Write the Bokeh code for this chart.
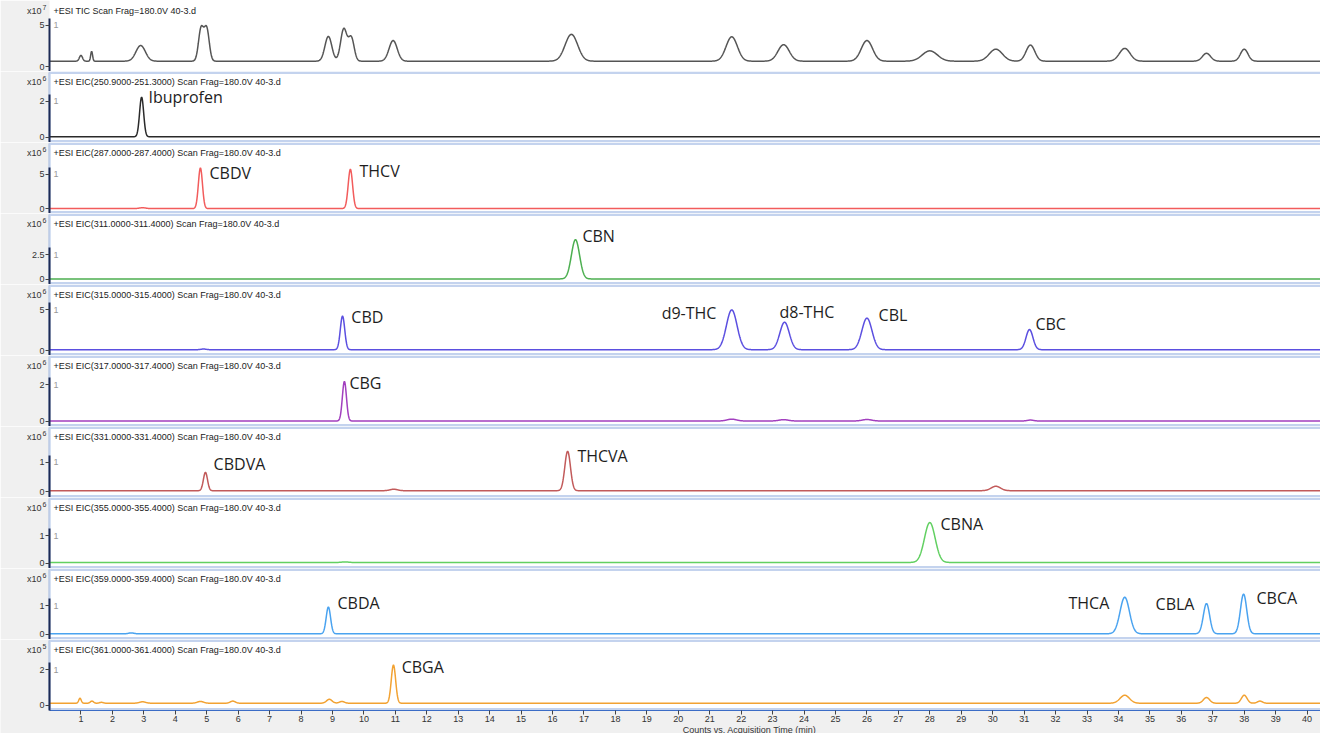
import numpy as np
from bokeh.plotting import figure
from bokeh.layouts import column
from bokeh.models import FixedTicker, Label, Range1d, BoxAnnotation
from bokeh.embed import file_html
from bokeh.resources import INLINE

# ---------------- data ----------------
panel_titles = [
    "+ESI TIC Scan Frag=180.0V 40-3.d",
    "+ESI EIC(250.9000-251.3000) Scan Frag=180.0V 40-3.d",
    "+ESI EIC(287.0000-287.4000) Scan Frag=180.0V 40-3.d",
    "+ESI EIC(311.0000-311.4000) Scan Frag=180.0V 40-3.d",
    "+ESI EIC(315.0000-315.4000) Scan Frag=180.0V 40-3.d",
    "+ESI EIC(317.0000-317.4000) Scan Frag=180.0V 40-3.d",
    "+ESI EIC(331.0000-331.4000) Scan Frag=180.0V 40-3.d",
    "+ESI EIC(355.0000-355.4000) Scan Frag=180.0V 40-3.d",
    "+ESI EIC(359.0000-359.4000) Scan Frag=180.0V 40-3.d",
    "+ESI EIC(361.0000-361.4000) Scan Frag=180.0V 40-3.d",
]
exponents = ["7", "6", "6", "6", "6", "6", "6", "6", "6", "5"]
y_ticks = [[0, 5], [0, 2], [0, 5], [0, 2.5], [0, 5], [0, 2], [0, 1], [0, 1], [0, 1], [0, 2]]
x_ticks = list(range(1, 41))
x_axis_title = "Counts vs. Acquisition Time (min)"

# peak tables: retention time (min), height, width (sigma, min); baselines
tic_rt = [1.0, 1.34, 2.9, 4.82, 5.0, 8.87, 9.36, 9.6, 10.93, 16.6, 21.7, 23.35, 26.0, 28.0, 30.1, 31.2, 34.2, 36.8, 38.0]
tic_h = [0.7, 1.2, 1.9, 3.9, 3.9, 3.0, 3.9, 2.8, 2.5, 3.25, 2.95, 2.0, 2.5, 1.25, 1.45, 1.95, 1.55, 0.95, 1.45]
tic_w = [0.05, 0.03, 0.15, 0.08, 0.08, 0.11, 0.1, 0.09, 0.13, 0.2, 0.18, 0.18, 0.18, 0.24, 0.21, 0.14, 0.17, 0.13, 0.12]
tic_base = 0.65

e251_rt = [2.93]
e251_h = [2.2]
e251_w = [0.065]
e251_base = 0.03

e287_rt = [2.96, 4.8, 9.57]
e287_h = [0.12, 5.85, 5.65]
e287_w = [0.1, 0.065, 0.07]
e287_base = 0.05

e311_rt = [16.73]
e311_h = [4.0]
e311_w = [0.13]
e311_base = 0.05

e315_rt = [4.9, 9.32, 21.7, 23.38, 26.0, 31.17]
e315_h = [0.08, 4.1, 4.85, 3.35, 3.85, 2.45]
e315_w = [0.08, 0.07, 0.17, 0.15, 0.16, 0.11]
e315_base = 0.15

e317_rt = [9.38, 21.7, 23.35, 26.0, 31.2]
e317_h = [2.15, 0.1, 0.07, 0.08, 0.05]
e317_w = [0.065, 0.15, 0.15, 0.15, 0.1]
e317_base = 0.02

e331_rt = [4.96, 10.95, 16.48, 30.1]
e331_h = [0.62, 0.05, 1.33, 0.15]
e331_w = [0.065, 0.12, 0.09, 0.15]
e331_base = 0.04

e355_rt = [9.4, 28.0]
e355_h = [0.02, 1.45]
e355_w = [0.1, 0.17]
e355_base = 0.03

e359_rt = [2.6, 8.87, 34.2, 36.8, 37.98]
e359_h = [0.03, 0.93, 1.27, 1.05, 1.38]
e359_w = [0.08, 0.07, 0.15, 0.1, 0.1]
e359_base = 0.02

e361_rt = [0.97, 1.35, 1.65, 2.96, 4.8, 5.83, 8.9, 9.3, 10.94, 34.2, 36.8, 38.0, 38.5]
e361_h = [0.28, 0.12, 0.05, 0.08, 0.1, 0.12, 0.22, 0.1, 2.15, 0.45, 0.32, 0.45, 0.12]
e361_w = [0.04, 0.05, 0.06, 0.1, 0.1, 0.08, 0.09, 0.08, 0.07, 0.15, 0.1, 0.09, 0.08]
e361_base = 0.12

# peak annotations: panel index, text, x (min), y (panel units)
label_panel = [1, 2, 2, 3, 4, 4, 4, 4, 4, 5, 6, 6, 7, 8, 8, 8, 8, 9]
label_text = ["Ibuprofen", "CBDV", "THCV", "CBN", "CBD", "d9-THC", "d8-THC", "CBL", "CBC",
              "CBG", "CBDVA", "THCVA", "CBNA", "CBDA", "THCA", "CBLA", "CBCA", "CBGA"]
label_x = [3.15, 5.09, 9.86, 16.95, 9.6, 19.47, 23.22, 26.37, 31.36,
           9.54, 5.22, 16.79, 28.34, 9.16, 32.41, 35.18, 38.39, 11.2]
label_y = [2.23, 5.15, 5.44, 4.375, 4.1, 4.6, 4.75, 4.4, 3.25,
           2.1, 0.93, 1.2, 1.41, 1.1, 1.1, 1.07, 1.25, 2.17]

# ---------------- styling ----------------
colors = ["#555555", "#2a2a2a", "#f25c5c", "#4caf50", "#5b4fe0", "#a23fbf",
          "#c25a5a", "#62d062", "#4aa3f0", "#f2a232"]
y_ranges = [(-0.6, 8.0), (-0.29, 3.66), (-0.66, 9.56), (-0.52, 6.72), (-0.56, 8.1),
            (-0.28, 3.58), (-0.19, 2.21), (-0.19, 2.39), (-0.18, 2.29), (-0.29, 3.71)]

traces = [
    (tic_rt, tic_h, tic_w, tic_base),
    (e251_rt, e251_h, e251_w, e251_base),
    (e287_rt, e287_h, e287_w, e287_base),
    (e311_rt, e311_h, e311_w, e311_base),
    (e315_rt, e315_h, e315_w, e315_base),
    (e317_rt, e317_h, e317_w, e317_base),
    (e331_rt, e331_h, e331_w, e331_base),
    (e355_rt, e355_h, e355_w, e355_base),
    (e359_rt, e359_h, e359_w, e359_base),
    (e361_rt, e361_h, e361_w, e361_base),
]

t = np.linspace(0, 40.5, 4051)


def chromatogram(rt, h, w, base):
    y = np.full_like(t, base)
    for r, a, s in zip(rt, h, w):
        y = y + a * np.exp(-0.5 * ((t - r) / s) ** 2)
    return y


W = 1320
FRAME_H = 71
BOTTOM = 23
PX_PER_MIN = 31.44
LEFT_PX = 49
x_start = -LEFT_PX / PX_PER_MIN
x_end = x_start + W / PX_PER_MIN
xr = Range1d(x_start, x_end)
SMALL_FONT = "Liberation Sans"
GRAY = "#f0f0f0"
BLUE = "#3b6cc6"

figs = []
for i in range(10):
    last = i == 9
    y0, y1 = y_ranges[i]
    upp = (y1 - y0) / FRAME_H  # data units per pixel
    ylo = y0 - (BOTTOM * upp if last else 0)
    p = figure(width=W, height=FRAME_H + (BOTTOM if last else 0),
               x_range=xr, y_range=Range1d(ylo, y1),
               toolbar_location=None, output_backend="svg",
               min_border_left=0, min_border_right=0,
               min_border_top=0, min_border_bottom=0)
    p.border_fill_color = GRAY
    p.background_fill_color = "white"
    p.outline_line_color = None
    p.grid.visible = False

    # grey side strip (and bottom strip for the last panel)
    p.add_layout(BoxAnnotation(right=0, fill_color=GRAY, fill_alpha=1, line_color=None,
                               level="underlay"))
    if last:
        p.add_layout(BoxAnnotation(top=y0, fill_color=GRAY, fill_alpha=1, line_color=None,
                                   level="underlay"))
    if i > 0:
        p.add_layout(BoxAnnotation(left=0, right=x_end + 1, top=y1 - 1.2 * upp,
                                   bottom=y0 + 1.2 * upp,
                                   fill_color=None, line_color=BLUE, line_width=2.4,
                                   level="underlay"))

    yax = p.yaxis[0]
    yax.fixed_location = 0
    yax.ticker = FixedTicker(ticks=y_ticks[i])
    yax.major_label_text_font = SMALL_FONT
    yax.major_label_text_font_size = "9px"
    yax.major_label_text_color = "#333333"
    yax.major_tick_out = 4
    yax.major_tick_in = 0
    yax.major_tick_line_color = "#444444"
    yax.minor_tick_line_color = None
    yax.major_label_standoff = 1
    yax.axis_line_color = "#1c2a55"
    yax.axis_line_width = 2
    yax.bounds = (y0, y_ticks[i][-1] + 0.1 * (y1 - y0))

    xax = p.xaxis[0]
    if last:
        xax.fixed_location = y0
        xax.bounds = (0, x_end)
        xax.ticker = FixedTicker(ticks=x_ticks)
        xax.major_label_text_font = SMALL_FONT
        xax.major_label_text_font_size = "9px"
        xax.major_label_text_color = "#333333"
        xax.major_tick_out = 4
        xax.major_tick_in = 0
        xax.major_tick_line_color = "#444444"
        xax.minor_tick_line_color = None
        xax.major_label_standoff = 1
        xax.axis_line_color = BLUE
        xax.axis_line_width = 1
    else:
        xax.visible = False

    rt, h, w, base = traces[i]
    p.line(t, chromatogram(rt, h, w, base), line_color=colors[i], line_width=1.5)

    # panel title, multiplier, trace id
    p.add_layout(Label(x=0, y=y1, x_offset=4, y_offset=-10, text=panel_titles[i],
                       text_font=SMALL_FONT, text_font_size="9px", text_color="#222222",
                       text_baseline="middle", text_align="left"))
    p.add_layout(Label(x=0, y=y1, x_offset=-8, y_offset=-10, text="x10",
                       text_font=SMALL_FONT, text_font_size="9px", text_color="#333333",
                       text_baseline="middle", text_align="right"))
    p.add_layout(Label(x=0, y=y1, x_offset=-7, y_offset=-7, text=exponents[i],
                       text_font=SMALL_FONT, text_font_size="7px", text_color="#333333",
                       text_baseline="middle", text_align="left"))
    p.add_layout(Label(x=0, y=y_ticks[i][-1], x_offset=4, text="1",
                       text_font=SMALL_FONT, text_font_size="9px", text_color="#999999",
                       text_baseline="middle", text_align="left"))

    for k, pi in enumerate(label_panel):
        if pi == i:
            p.add_layout(Label(x=label_x[k], y=label_y[k], text=label_text[k],
                               text_font="Open Sans", text_font_size="16px",
                               text_color="#1e1e1e", text_baseline="middle",
                               text_align="left"))
    if last:
        p.add_layout(Label(x=22.27, y=y0, y_offset=-19, text=x_axis_title,
                           text_font=SMALL_FONT, text_font_size="9px", text_color="#333333",
                           text_baseline="middle", text_align="center"))
    figs.append(p)

layout = column(*figs, spacing=0)
open("out.html", "w").write(file_html(layout, INLINE))
